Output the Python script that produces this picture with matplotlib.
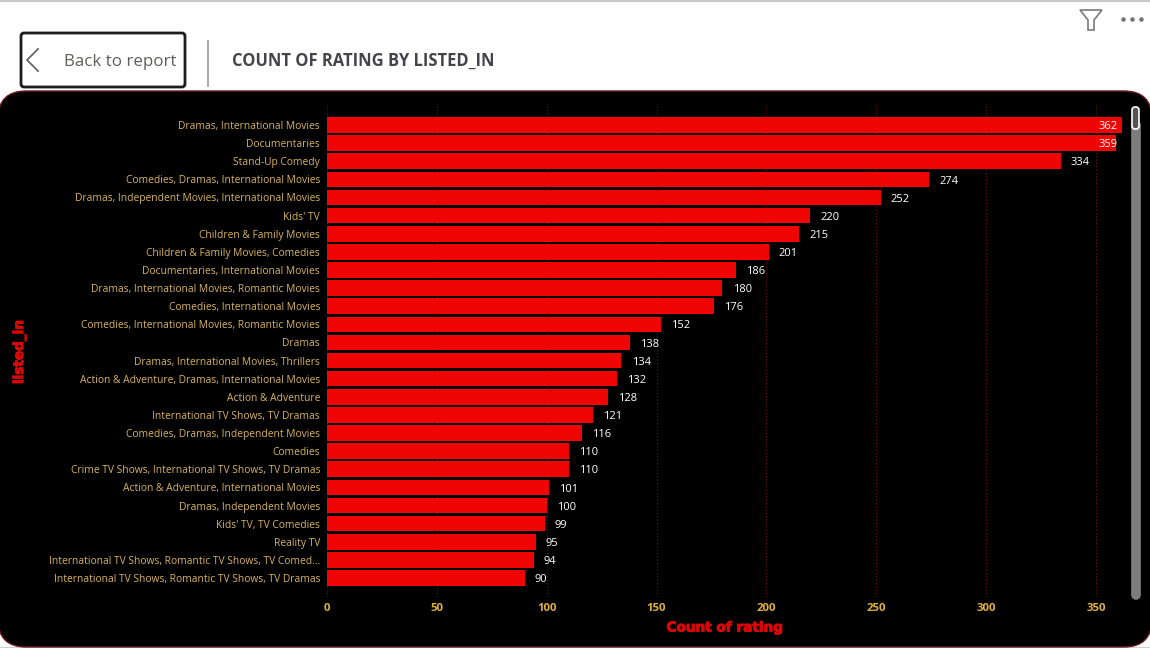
import numpy as np
import matplotlib
matplotlib.use('Agg')
import matplotlib.pyplot as plt
import matplotlib.patheffects as pe
from matplotlib.patches import FancyBboxPatch, Polygon

categories = ['Dramas, International Movies', 'Documentaries', 'Stand-Up Comedy',
              'Comedies, Dramas, International Movies', 'Dramas, Independent Movies, International Movies',
              "Kids' TV", 'Children & Family Movies', 'Children & Family Movies, Comedies',
              'Documentaries, International Movies', 'Dramas, International Movies, Romantic Movies',
              'Comedies, International Movies', 'Comedies, International Movies, Romantic Movies',
              'Dramas', 'Dramas, International Movies, Thrillers',
              'Action & Adventure, Dramas, International Movies', 'Action & Adventure',
              'International TV Shows, TV Dramas', 'Comedies, Dramas, Independent Movies',
              'Comedies', 'Crime TV Shows, International TV Shows, TV Dramas',
              'Action & Adventure, International Movies', 'Dramas, Independent Movies',
              "Kids' TV, TV Comedies", 'Reality TV',
              'International TV Shows, Romantic TV Shows, TV Comed...',
              'International TV Shows, Romantic TV Shows, TV Dramas']
counts = [362, 359, 334, 274, 252, 220, 215, 201, 186, 180, 176, 152, 138, 134, 132, 128,
          121, 116, 110, 110, 101, 100, 99, 95, 94, 90]
x_ticks = [0, 50, 100, 150, 200, 250, 300, 350]

W, H = 1150, 648
BAR_RED = '#f00505'
GOLD = '#d9b45a'

plt.rcParams['font.family'] = ['Open Sans', 'DejaVu Sans']

fig = plt.figure(figsize=(W / 100, H / 100), dpi=100, facecolor='white')

# page layer in pixel coordinates, y going down like the screenshot
bg = fig.add_axes([0, 0, 1, 1])
bg.set_xlim(0, W)
bg.set_ylim(H, 0)
bg.axis('off')

bg.plot([0, W], [0.5, 0.5], color='#c8c8c8', lw=1.5)
bg.plot([0, W], [647.5, 647.5], color='#d0d0d0', lw=1.5, zorder=0)

# black card, wider than the page so only the corners show
bg.add_patch(FancyBboxPatch((-2, 91), 1154, 556, boxstyle='round,pad=0,rounding_size=28',
                            fc='black', ec='#6b1a24', lw=1, zorder=1))

# back button
bg.add_patch(FancyBboxPatch((21, 33), 164, 54, boxstyle='round,pad=0,rounding_size=3',
                            fc='white', ec='#1c1c1c', lw=2))
bg.plot([38, 27, 38], [49, 60, 71], color='#666666', lw=1.3)
bg.text(64, 61.5, 'Back to report', fontsize=12.2, color='#605e5c', va='center', ha='left')
bg.plot([208, 208], [41, 86], color='#a0a0a0', lw=1.3)
bg.text(232, 60.5, 'COUNT OF RATING BY LISTED_IN', fontsize=11.9, fontweight='bold',
        color='#44444a', va='center', ha='left')

# filter icon and the three dots
bg.add_patch(Polygon([(1080, 10), (1102, 10), (1094, 20), (1094, 30), (1088, 30), (1088, 20)],
                     closed=True, fc='white', ec='#7a7a7a', lw=1.2))
for dot_x in [1123, 1132, 1141]:
    bg.plot(dot_x, 18.5, 'o', color='#707070', ms=2.2)

# scrollbar
bg.plot([1135.5, 1135.5], [125, 595], color='#7d7d7d', lw=7, solid_capstyle='round', zorder=3)
bg.add_patch(FancyBboxPatch((1132, 107), 7, 22, boxstyle='round,pad=0,rounding_size=3',
                            fc='#555555', ec='white', lw=1.2, zorder=4))

# chart axes: x 0 at px 327, 350 at px 1096; rows are 18.12 px apart
PX_PER_UNIT = (1096 - 327) / 350
ROW = 18.12
left, right = 327, 1130
top, bottom = 105, 597
ax = fig.add_axes([left / W, 1 - bottom / H, (right - left) / W, (bottom - top) / H])
ax.set_facecolor('none')
ax.set_xlim(0, (right - left) / PX_PER_UNIT)
ax.set_ylim((bottom - 125) / ROW, (top - 125) / ROW)

y = np.arange(len(categories))
ax.barh(y, counts, height=0.86, color=BAR_RED, zorder=2)

ax.set_xticks(x_ticks)
ax.set_xticklabels(x_ticks, fontsize=8.2, fontweight='bold', color='#e0b040')
ax.set_yticks(y)
ax.set_yticklabels(categories, fontsize=7.35, color=GOLD)
ax.tick_params(axis='both', length=0)
ax.tick_params(axis='x', pad=4)
ax.tick_params(axis='y', pad=5)
ax.grid(axis='x', color='#7a1414', ls=(0, (1, 2)), lw=0.8, zorder=1)
ax.grid(axis='y', visible=False)
for s in ax.spines.values():
    s.set_visible(False)

for i, v in enumerate(counts):
    if v > 350:
        # no room after the bar, so these get pushed back inside
        ax.annotate(str(v), (360, i), xytext=(0, -1.2), textcoords='offset points',
                    ha='right', va='center', fontsize=8, color='white', zorder=3)
    else:
        ax.annotate(str(v), (v, i), xytext=(7.3, -1.2), textcoords='offset points',
                    ha='left', va='center', fontsize=8, color='white', zorder=3)

heavy = [pe.withStroke(linewidth=0.7, foreground='#d80808')]
bg.text(725, 627.5, 'Count of rating', fontsize=9.8, fontweight='bold', family=['DejaVu Sans'],
        color='#d80808', ha='center', va='center', zorder=5, path_effects=heavy)
bg.text(19, 352, 'listed_in', fontsize=9.8, fontweight='bold', family=['DejaVu Sans'],
        color='#d80808', ha='center', va='center', rotation=90, zorder=5, path_effects=heavy)

fig.savefig('out.png', dpi=100, facecolor='white')
